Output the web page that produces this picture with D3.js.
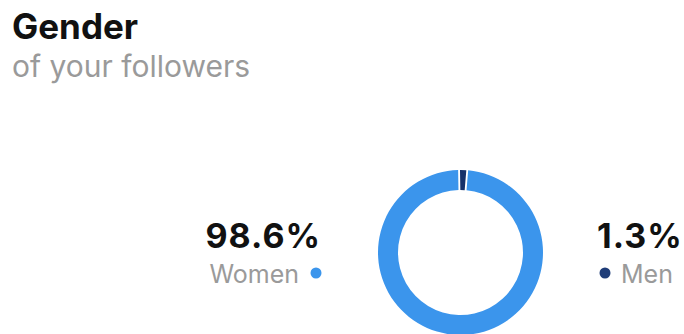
<!DOCTYPE html>
<html>
<head>
<meta charset="utf-8">
<script src="https://cdn.jsdelivr.net/npm/d3@7"></script>
<style>
  html, body { margin: 0; padding: 0; background: #fff; }
  svg { display: block; font-family: Inter, "Noto Sans", sans-serif; }
</style>
</head>
<body>
<svg id="chart" width="684" height="334"></svg>
<script>
// Follower gender split
const categories = ["Women", "Men"];
const shares = [98.6, 1.3];
const shareLabels = ["98.6%", "1.3%"];
const colors = ["#3b95ec", "#15306a"];

const svg = d3.select("#chart");

// Heading
svg.append("text")
  .attr("x", 12).attr("y", 39)
  .attr("font-size", 35).attr("font-weight", 700)
  .attr("fill", "#111")
  .text("Gender");
svg.append("text")
  .attr("x", 12).attr("y", 77)
  .attr("font-size", 30).attr("font-weight", 400)
  .attr("fill", "#9a9a9a")
  .text("of your followers");

// Donut
const cx = 460.5, cy = 252.5, rOuter = 82.5, rInner = 62.5;
const total = d3.sum(shares);
const womenAngle = 2 * Math.PI * shares[0] / total;
const pie = d3.pie()
  .sort(null)
  .value(d => d.value)
  .startAngle(-womenAngle)
  .endAngle(2 * Math.PI - womenAngle)
  .padAngle(0.018);
const arc = d3.arc().innerRadius(rInner).outerRadius(rOuter);
const data = categories.map((c, i) => ({ name: c, value: shares[i], color: colors[i] }));

svg.append("g")
  .attr("transform", `translate(${cx},${cy})`)
  .selectAll("path")
  .data(pie(data))
  .join("path")
  .attr("d", arc)
  .attr("fill", d => d.data.color);

// Left label (Women), right-aligned
const left = svg.append("g");
left.append("text")
  .attr("x", 321).attr("y", 248)
  .attr("text-anchor", "end")
  .attr("font-size", 34).attr("font-weight", 700).attr("fill", "#111")
  .attr("letter-spacing", 1)
  .text(shareLabels[0]);
left.append("text")
  .attr("x", 299).attr("y", 283)
  .attr("text-anchor", "end")
  .attr("font-size", 25).attr("fill", "#9a9a9a")
  .text(categories[0]);
left.append("circle")
  .attr("cx", 316).attr("cy", 273).attr("r", 5.5)
  .attr("fill", colors[0]);

// Right label (Men), left-aligned
const right = svg.append("g");
right.append("text")
  .attr("x", 597).attr("y", 248)
  .attr("font-size", 34).attr("font-weight", 700).attr("fill", "#111")
  .attr("letter-spacing", 1)
  .text(shareLabels[1]);
right.append("circle")
  .attr("cx", 605).attr("cy", 273).attr("r", 5.5)
  .attr("fill", "#1f3d78");
right.append("text")
  .attr("x", 621).attr("y", 283)
  .attr("font-size", 25).attr("fill", "#9a9a9a")
  .text(categories[1]);
</script>
</body>
</html>
